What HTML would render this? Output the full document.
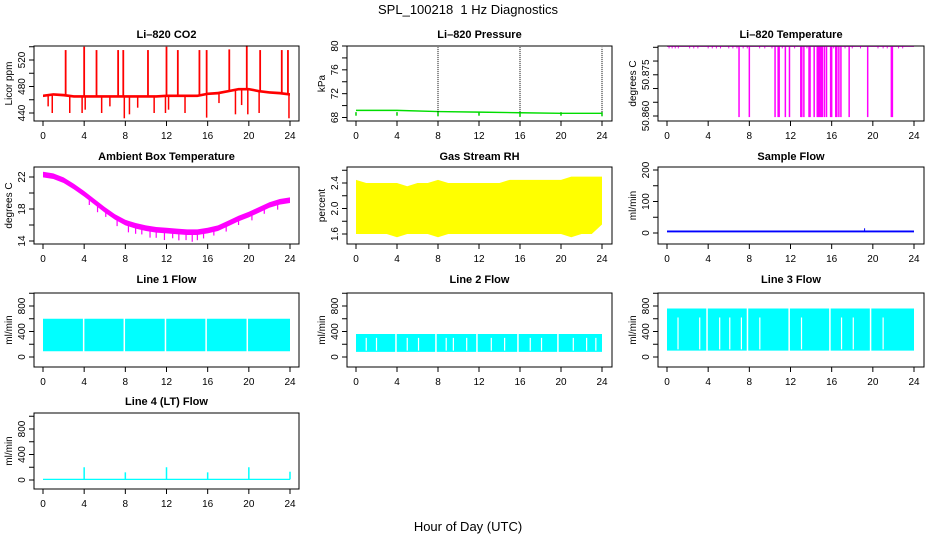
<!DOCTYPE html>
<html><head><meta charset="utf-8">
<style>
body{margin:0;background:#fff;}
svg{display:block;font-family:"Liberation Sans",sans-serif;}
</style></head>
<body>
<svg id="chart" width="936" height="540" viewBox="0 0 936 540">
<text x="468" y="14" text-anchor="middle" font-size="13">SPL_100218&#160; 1 Hz Diagnostics</text>
<text x="468" y="531" text-anchor="middle" font-size="13">Hour of Day (UTC)</text>
</svg>
<script>
// ---- data ----
const xTicks=[0,4,8,12,16,20,24];
const co2Hours=[0,1,2,3,4,5,6,7,8,9,10,11,12,13,14,15,16,17,18,19,20,21,22,23,24];
const co2Base=[466,468,467,465,465,465,465,465,465,465,465,465,466,466,466,466,469,470,473,476,476,473,471,470,468];
const co2SpikeHours=[2.2,4.0,5.2,7.3,7.8,10.2,12.0,13.1,15.2,15.9,18.1,19.8,21.1,23.2,23.8];
const co2SpikeVals=[535,540,535,535,535,535,540,535,535,535,536,542,535,535,535];
const co2DipHours=[0.5,0.9,2.6,3.8,4.1,5.7,6.5,7.9,8.4,9.2,10.8,11.9,12.2,13.8,15.9,17.1,18.7,19.3,19.9,21.0,23.9];
const co2DipVals=[450,440,440,440,445,440,450,432,438,448,440,440,445,440,433,455,438,452,438,440,432];
const presHours=[0,4,8,12,16,20,24];
const presVals=[69.2,69.2,69.0,68.9,68.8,68.7,68.7];
const presSpikeHours=[8,16,24];
const presSpikeVals=[79.8,79.9,79.7];
const presDipHours=[0,4,8,12,16,20,24];
const presDipVals=[68.3,68.3,68.2,68.3,68.1,68.3,68.2];
const tempTop=50.8852;
const tempDipHours=[7.0,8.0,10.5,10.8,10.9,11.5,11.9,13.0,13.1,13.3,13.8,13.9,14.3,14.6,14.7,14.8,14.9,15.0,15.1,15.3,15.5,15.9,16.0,16.4,16.5,16.7,16.9,17.7,19.5,21.8,21.9];
const tempDipVal=50.8596;
const tempDotHours=[0.2,0.5,0.8,1.1,2.2,2.6,3.0,4.0,4.4,4.8,5.2,6.0,6.4,6.8,7.4,7.8,9.0,9.5,10.2,11.2,12.4,13.6,16.2,17.3,18.0,18.8,20.5,21.0,21.4,22.5,22.9];
const ambHours=[0,1,2,3,4,5,6,7,8,9,10,11,12,13,14,15,16,17,18,19,20,21,22,23,24];
const ambVals=[22.3,22.1,21.6,20.8,19.9,18.9,17.9,17.0,16.3,15.9,15.6,15.4,15.3,15.2,15.1,15.1,15.3,15.6,16.2,16.8,17.3,17.9,18.5,18.9,19.1];
const ambDipHours=[4.5,5.3,6.1,7.2,8.3,9.0,9.6,10.4,11.0,11.8,12.6,13.2,13.9,14.5,15.0,15.6,16.6,17.8,19.0,20.3,21.5,22.8];
const ambDipDepth=[0.9,1.0,0.8,1.0,1.1,1.0,0.9,1.1,1.0,1.2,0.9,1.1,1.0,1.2,1.0,0.9,0.8,0.9,0.8,0.9,0.8,0.9];
const rhHours=[0,1,2,3,4,5,6,7,8,9,10,11,12,13,14,15,16,17,18,19,20,21,22,23,24];
const rhHigh=[2.45,2.4,2.4,2.4,2.4,2.35,2.4,2.4,2.45,2.4,2.4,2.4,2.4,2.4,2.4,2.45,2.45,2.45,2.45,2.45,2.45,2.5,2.5,2.5,2.5];
const rhLow=[1.6,1.6,1.6,1.6,1.55,1.6,1.6,1.6,1.55,1.6,1.6,1.6,1.6,1.6,1.6,1.6,1.6,1.6,1.6,1.6,1.6,1.55,1.6,1.6,1.75];
const sampleVal=5;
const sampleSpikeHours=[19.2];
const sampleSpikeVals=[15];
const l1Low=90, l1High=600;
const l1GapHours=[3.95,7.9,11.9,15.85,19.85];
const l2Low=80, l2High=360;
const l2GapHours=[3.9,7.8,11.8,15.8,19.7];
const l2PartGapHours=[1.0,2.0,5.0,6.1,8.8,9.5,10.8,13.2,14.5,17.0,18.1,21.2,22.5,23.4];
const l3Low=100, l3High=760;
const l3GapHours=[3.89,7.82,11.87,15.83,19.78];
const l3PartGapHours=[1.07,3.18,5.12,6.1,7.23,9.02,13.07,16.96,18.1,21.0];
const l4Base=10;
const l4SpikeHours=[4,8,12,16,20,24];
const l4SpikeVals=[200,120,200,120,200,130];

// ---- layout ----
const cols=[{l:34,r:299,x0:43,x24:290},{l:347,r:612,x0:356,x24:602},{l:658,r:924,x0:667,x24:914}];
const rows=[{t:46,b:121,ty:38},{t:167,b:244,ty:160},{t:293,b:367,ty:283},{t:413,b:489,ty:405}];
const svg=document.getElementById('chart');
const NS='http://www.w3.org/2000/svg';
function mk(tag,at,parent){const e=document.createElementNS(NS,tag);for(const k in at)e.setAttribute(k,at[k]);(parent||svg).appendChild(e);return e;}

function panel(name,ci,ri,title,ylab,ticks,labels,v1,y1,v2,y2){
  const c=cols[ci],r=rows[ri];
  const g=mk('g',{});
  
  
  const X=h=>c.x0+h/24*(c.x24-c.x0);
  const Y=v=>y1+(v-v1)/(v2-v1)*(y2-y1);
  const t=mk('text',{x:(c.l+c.r)/2,y:r.ty,'text-anchor':'middle','font-size':11,'font-weight':'bold'},g);
  t.textContent=title;
  
  
  const yl=mk('text',{x:0,y:0,'text-anchor':'middle','font-size':10,transform:`translate(${c.l-22},${(r.t+r.b)/2}) rotate(-90)`},g);
  yl.textContent=ylab;
  
  
  const plot=mk('g',{},g);
  
  
  const frame=mk('rect',{x:c.l,y:r.t,width:c.r-c.l,height:r.b-r.t,fill:'none',stroke:'#000','stroke-width':1},g);
  
  
  const ya=mk('g',{stroke:'#000','stroke-width':1},g);
  
  
  mk('line',{x1:c.l,x2:c.l,y1:Y(ticks[0]),y2:Y(ticks[ticks.length-1])},ya);
  ticks.forEach(v=>{mk('line',{x1:c.l-5,x2:c.l,y1:Y(v),y2:Y(v)},ya);});
  labels.forEach(s=>{const tx=mk('text',{x:0,y:0,'text-anchor':'middle','font-size':10,stroke:'none',transform:`translate(${c.l-9},${Y(parseFloat(s))}) rotate(-90)`},g);
    tx.textContent=s;
    
    });
  const xa=mk('g',{stroke:'#000','stroke-width':1},g);
  
  
  mk('line',{x1:X(0),x2:X(24),y1:r.b,y2:r.b},xa);
  xTicks.forEach(h=>{mk('line',{x1:X(h),x2:X(h),y1:r.b,y2:r.b+5},xa);
    const tx=mk('text',{x:X(h),y:r.b+18,'text-anchor':'middle','font-size':10,stroke:'none'},g);
    tx.textContent=h;
    
    });
  return {X,Y,plot};
}
function band(p,hours,lo,hi,color){
  let pts=hours.map((h,i)=>p.X(h)+','+p.Y(hi[i]));
  for(let i=hours.length-1;i>=0;i--)pts.push(p.X(hours[i])+','+p.Y(lo[i]));
  const e=mk('polygon',{points:pts.join(' '),fill:color,stroke:'none'},p.plot);
  
  
}
function vlines(p,hours,vals,base,color,w,dash){
  hours.forEach((h,i)=>{const b=Array.isArray(base)?base[i]:base;
    const e=mk('line',{x1:p.X(h),x2:p.X(h),y1:p.Y(b),y2:p.Y(vals[i]),stroke:color,'stroke-width':w||1.5},p.plot);
    if(dash)e.setAttribute('stroke-dasharray',dash);
    
    });
}
function interp(hours,vals,h){for(let i=0;i<hours.length-1;i++){if(h<=hours[i+1]){const f=(h-hours[i])/(hours[i+1]-hours[i]);return vals[i]+f*(vals[i+1]-vals[i]);}}return vals[vals.length-1];}

// CO2
let p=panel('co2',0,0,'Li\u2013820 CO2','Licor ppm',[440,460,480,500,520,540],['440','480','520'],440,113,520,60);
band(p,co2Hours,co2Base.map(v=>v-2),co2Base.map(v=>v+2),'#ff0000');
vlines(p,co2SpikeHours,co2SpikeVals,co2SpikeHours.map(h=>interp(co2Hours,co2Base,h)),'#ff0000',1.8);
vlines(p,co2DipHours,co2DipVals,co2DipHours.map(h=>interp(co2Hours,co2Base,h)),'#ff0000',1.5);

// Pressure
p=panel('pressure',1,0,'Li\u2013820 Pressure','kPa',[68,70,72,74,76,78,80],['68','72','76','80'],68,117.5,80,46);
band(p,presHours,presVals.map(v=>v-0.12),presVals.map(v=>v+0.12),'#00dd00');
vlines(p,presDipHours,presDipVals,68.9,'#00cc00',1.5);
vlines(p,presSpikeHours,presSpikeVals,68.9,'#000',1,'1,1');

// Li-820 Temp
p=panel('li820-temp',2,0,'Li\u2013820 Temperature','degrees C',[50.860,50.865,50.870,50.875,50.880,50.885],['50.860','50.875'],50.860,116,50.885,47.3);
band(p,[0,24],[tempTop-0.00005,tempTop-0.00005],[tempTop+0.00008,tempTop+0.00008],'#ff00ff');
vlines(p,tempDipHours,tempDipHours.map(()=>tempDipVal),tempTop,'#ff00ff',1.5);
vlines(p,tempDotHours,tempDotHours.map(()=>tempTop-0.0006),tempTop,'#ff00ff',1);

// Ambient
p=panel('ambient-temp',0,1,'Ambient Box Temperature','degrees C',[14,16,18,20,22],['14','18','22'],14,241,22,177);
band(p,ambHours,ambVals.map(v=>v-0.35),ambVals.map(v=>v+0.35),'#ff00ff');
const ambLocal=ambDipHours.map(h=>interp(ambHours,ambVals,h));
vlines(p,ambDipHours,ambLocal.map((v,i)=>v-ambDipDepth[i]),ambLocal,'#ff00ff',1.2);

// RH
p=panel('rh',1,1,'Gas Stream RH','percent',[1.6,1.8,2.0,2.2,2.4,2.6],['1.6','2.0','2.4'],1.6,234,2.4,183);
band(p,rhHours,rhLow,rhHigh,'#ffff00');

// Sample flow
p=panel('sample-flow',2,1,'Sample Flow','ml/min',[0,50,100,150,200],['0','100','200'],0,233,200,170);
band(p,[0,24],[sampleVal-3,sampleVal-3],[sampleVal+3,sampleVal+3],'#0000ff');
vlines(p,sampleSpikeHours,sampleSpikeVals,sampleVal,'#0000ff',1);

function flow(name,ci,ri,title,lo,hi,gaps,part,partFrom){
  const q=panel(name,ci,ri,title,'ml/min',[0,200,400,600,800,1000],['0','400','800'],0,357,800,306);
  band(q,[0,24],[lo,lo],[hi,hi],'#00ffff');
  vlines(q,gaps,gaps.map(()=>hi+20),lo-20,'#ffffff',1.5);
  if(part)vlines(q,part,part.map(()=>partFrom),lo+20,'#ffffff',1.2);
  return q;
}
flow('line1-flow',0,2,'Line 1 Flow',l1Low,l1High,l1GapHours);
flow('line2-flow',1,2,'Line 2 Flow',l2Low,l2High,l2GapHours,l2PartGapHours,300);
flow('line3-flow',2,2,'Line 3 Flow',l3Low,l3High,l3GapHours,l3PartGapHours,620);
p=panel('line4-flow',0,3,'Line 4 (LT) Flow','ml/min',[0,200,400,600,800,1000],['0','400','800'],0,480,800,429);
band(p,[0,24],[l4Base-10,l4Base-10],[l4Base+10,l4Base+10],'#00ffff');
vlines(p,l4SpikeHours,l4SpikeVals,l4Base,'#00ffff',1.5);
</script>
</body></html>
